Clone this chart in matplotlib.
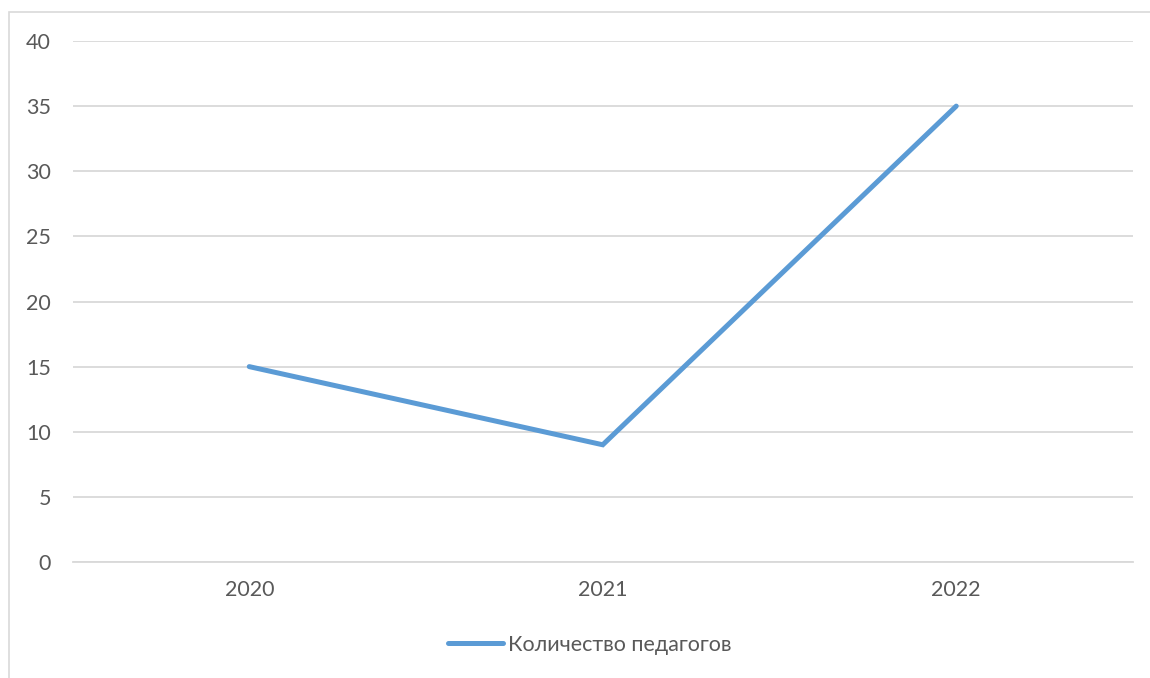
import matplotlib
matplotlib.use("Agg")
import matplotlib.pyplot as plt
from matplotlib.patches import Rectangle
from matplotlib.lines import Line2D

years = ["2020", "2021", "2022"]
teachers = [15, 9, 35]
y_ticks = [0, 5, 10, 15, 20, 25, 30, 35, 40]
series_name = "Количество педагогов"

line_color = "#5B9BD5"
grid_color = "#D9D9D9"
text_color = "#595959"

plt.rcParams["font.family"] = ["Lato", "DejaVu Sans"]

fig = plt.figure(figsize=(11.5, 6.78), dpi=100)
W, H = 1150, 678

# chart frame, running off the right and bottom edges
fig.patches.append(Rectangle((9 / W, -0.1), 1.2, 1 - 12 / H + 0.1,
                             transform=fig.transFigure, fill=False,
                             edgecolor="#D9D9D9", linewidth=1.2))

ax = fig.add_axes([72.5 / W, 1 - 562 / H, (1133 - 72.5) / W, (562 - 41) / H])
x = list(range(len(years)))
ax.plot(x, teachers, color=line_color, linewidth=3.6, solid_capstyle="round",
        solid_joinstyle="miter", zorder=3)

ax.set_xlim(-0.5, len(years) - 0.5)
ax.set_ylim(0, 40)
ax.set_yticks(y_ticks)
ax.set_xticks(x)
ax.set_xticklabels(years)
ax.yaxis.grid(True, color=grid_color, linewidth=1.3)
ax.set_axisbelow(True)
for s in ax.spines.values():
    s.set_visible(False)
ax.spines["bottom"].set_visible(True)
ax.spines["bottom"].set_color(grid_color)
ax.spines["bottom"].set_linewidth(1.3)
ax.tick_params(length=0, labelsize=15.5, labelcolor=text_color)
ax.tick_params(axis="y", pad=15.5)
ax.tick_params(axis="x", pad=13)
for lab in ax.get_yticklabels():
    lab.set_horizontalalignment("right")

handle = Line2D([0], [0], color=line_color, linewidth=3.6, solid_capstyle="round")
fig.legend([handle], [series_name], loc="center", bbox_to_anchor=(590 / W, 1 - 645 / H),
           frameon=False, fontsize=15.5, labelcolor=text_color, handlelength=2.55,
           handletextpad=0.25)

fig.savefig("out.png", dpi=100)
